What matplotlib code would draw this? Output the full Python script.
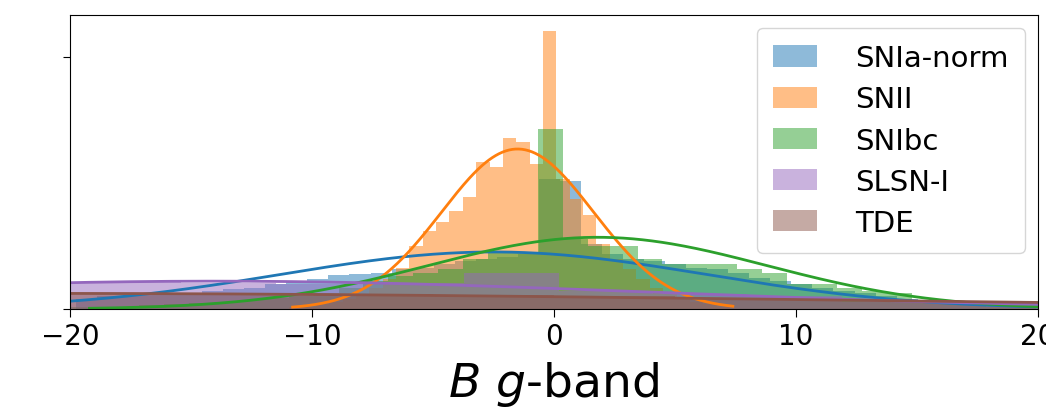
import numpy as np
import matplotlib
matplotlib.use("Agg")
import matplotlib.pyplot as plt

# ---------------- data ----------------
classes = ["SNIa-norm", "SNII", "SNIbc", "SLSN-I", "TDE"]
colors = ["#1f77b4", "#ff7f0e", "#2ca02c", "#9467bd", "#8c564b"]

# histogram bin ranges (lo, hi, n_bins) and densities per bin
snia_bins = (-19.76, 20.26, 46)
snia_dens = [0.008, 0.010, 0.010, 0.011, 0.012, 0.013, 0.014, 0.016, 0.017, 0.020,
             0.022, 0.024, 0.027, 0.028, 0.029, 0.032, 0.033, 0.036, 0.038, 0.040,
             0.041, 0.044, 0.103, 0.102, 0.052, 0.044, 0.040, 0.038, 0.036, 0.033,
             0.032, 0.029, 0.025, 0.022, 0.020, 0.017, 0.014, 0.013, 0.010, 0.008,
             0.006, 0.005, 0.004, 0.003, 0.002, 0.002]

snii_bins = (-10.94, 7.28, 33)
snii_dens = [0.002, 0.002, 0.004, 0.006, 0.008, 0.012, 0.017, 0.024, 0.033, 0.050,
             0.062, 0.069, 0.078, 0.089, 0.117, 0.113, 0.136, 0.133, 0.115, 0.221,
             0.103, 0.087, 0.075, 0.052, 0.040, 0.032, 0.024, 0.017, 0.012, 0.008,
             0.006, 0.004, 0.002]

snibc_bins = (-20.23, 19.94, 39)
snibc_dens = [0.002, 0.002, 0.002, 0.003, 0.004, 0.005, 0.006, 0.007, 0.009, 0.010,
              0.013, 0.017, 0.022, 0.026, 0.029, 0.032, 0.040, 0.045, 0.045, 0.143,
              0.056, 0.050, 0.050, 0.040, 0.036, 0.036, 0.036, 0.032, 0.029, 0.020,
              0.020, 0.017, 0.014, 0.013, 0.006, 0.004, 0.003, 0.002, 0.002]

slsn_bins = (-23.2, 23.6, 12)
slsn_dens = [0.021, 0.022, 0.021, 0.020, 0.021, 0.029, 0.014, 0.012, 0.010, 0.006,
             0.004, 0.002]

tde_bins = (-25.0, 25.0, 10)
tde_dens = [0.013, 0.013, 0.013, 0.012, 0.011, 0.010, 0.008, 0.007, 0.005, 0.003]

# normal fits (mu, sigma) and the data range each fit is drawn over
fit_mu = [-2.5, -1.5, 1.8, -14.0, -22.0]
fit_sigma = [8.8, 3.14, 7.0, 18.0, 32.0]
fit_range = [(-21.0, 21.0), (-10.8, 7.4), (-19.2, 21.0), (-21.0, 21.0), (-21.0, 21.0)]

x_ticks = [-20, -10, 0, 10, 20]
xlabel = r"$B$ $g$-band"

# ---------------- plot ----------------
fig = plt.figure(figsize=(10.46, 4.14), dpi=100)
ax = fig.add_axes([0.067, 0.251, 0.925, 0.710])

all_bins = [snia_bins, snii_bins, snibc_bins, slsn_bins, tde_bins]
all_dens = [snia_dens, snii_dens, snibc_dens, slsn_dens, tde_dens]

for name, col, b, d, mu, sg, rng in zip(classes, colors, all_bins, all_dens,
                                        fit_mu, fit_sigma, fit_range):
    edges = np.linspace(b[0], b[1], b[2] + 1)
    centers = 0.5 * (edges[:-1] + edges[1:])
    ax.hist(centers, bins=edges, weights=d, color=col, alpha=0.5, label=name)
    xx = np.linspace(rng[0], rng[1], 400)
    yy = np.exp(-0.5 * ((xx - mu) / sg) ** 2) / (sg * np.sqrt(2 * np.pi))
    ax.plot(xx, yy, color=col, lw=2)

ax.set_xlim(-20, 20)
ax.set_ylim(0, 0.2333)
ax.set_xticks(x_ticks)
ax.set_yticks([0.0, 0.2])
ax.set_yticklabels([])
ax.tick_params(axis="x", labelsize=20, length=6)
ax.tick_params(axis="y", length=5)
ax.set_xlabel(xlabel, fontsize=34, labelpad=6)
ax.legend(loc="upper right", fontsize=21, handlelength=1.5, handleheight=0.75,
          borderpad=0.55, labelspacing=0.45, handletextpad=1.3,
          borderaxespad=0.45)

fig.savefig("out.png", dpi=100)
